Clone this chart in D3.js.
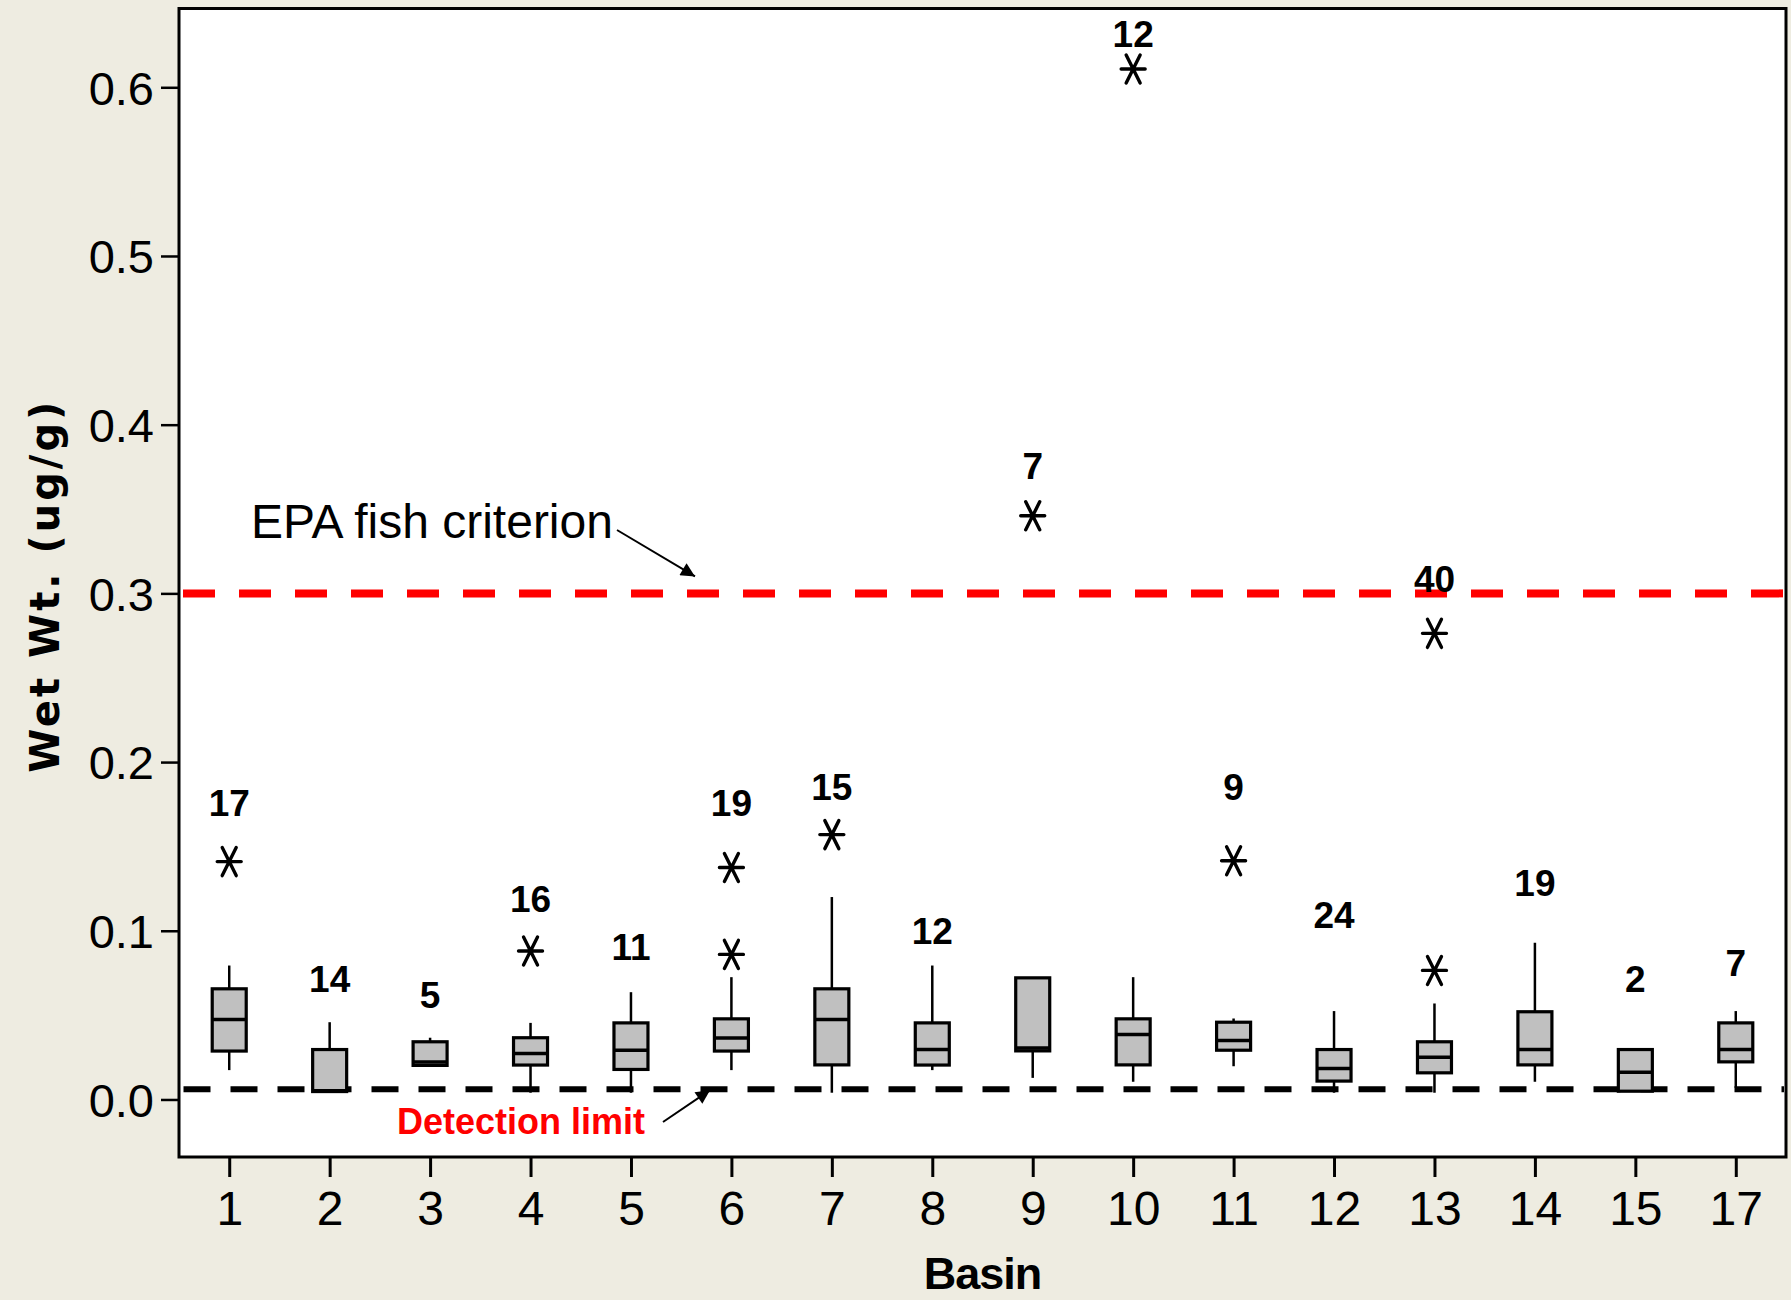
<!DOCTYPE html>
<html><head><meta charset="utf-8">
<script src="https://cdn.jsdelivr.net/npm/d3@7"></script>
<style>html,body{margin:0;padding:0;background:#EEECE1;} svg{display:block}</style>
</head><body><svg id="chart" width="1791" height="1300"></svg>
<script>
// ---------------- data ----------------
const basins      = ["1","2","3","4","5","6","7","8","9","10","11","12","13","14","15","17"];
const whiskerLow  = [0.0174,0.0047,0.0202,0.0040,0.0040,0.0174,0.0040,0.0174,0.0128,0.0105,0.0197,0.0040,0.0040,0.0105,0.0049,0.0069];
const q1          = [0.0287,0.0047,0.0202,0.0204,0.0178,0.0287,0.0205,0.0204,0.0288,0.0205,0.0292,0.0109,0.0158,0.0205,0.0049,0.0223];
const median      = [0.0474,0.0052,0.0222,0.0273,0.0292,0.0364,0.0474,0.0296,0.0305,0.0385,0.0350,0.0184,0.0251,0.0296,0.0162,0.0296];
const q3          = [0.0656,0.0296,0.0342,0.0366,0.0454,0.0478,0.0656,0.0454,0.0721,0.0478,0.0458,0.0296,0.0342,0.0520,0.0296,0.0454];
const whiskerHigh = [0.0794,0.0458,0.0366,0.0454,0.0636,0.0725,0.1200,0.0794,0.0721,0.0725,0.0480,0.0524,0.0569,0.0929,0.0296,0.0524];
const outlierBasin = ["1","4","6","6","7","9","10","11","13","13"];
const outlierValue = [0.141,0.088,0.1375,0.086,0.157,0.346,0.6108,0.1415,0.2763,0.0765];
const sampleCounts = [17,14,5,16,11,19,15,12,7,12,9,24,40,19,2,7];
const countLabelAt = [0.176,0.0718,0.0623,0.1192,0.0907,0.176,0.1855,0.1002,0.3758,0.6318,0.1855,0.1097,0.3088,0.1287,0.0718,0.0813];
const yTicks = [0.0,0.1,0.2,0.3,0.4,0.5,0.6];
const epaCriterion = 0.3;
const detectionLimit = 0.0061;
const yTitle = "Wet Wt. (ug/g)";
const xTitle = "Basin";

// ---------------- layout ----------------
const W = 1791, H = 1300;
const plot = {left:179, top:8.5, right:1786, bottom:1157};
const FONT = "'Liberation Sans', Arial, Helvetica, sans-serif";
const svg = d3.select("#chart");

svg.append("rect").attr("width",W).attr("height",H).attr("fill","#EEECE1");
svg.append("rect").attr("x",plot.left).attr("y",plot.top)
   .attr("width",plot.right-plot.left).attr("height",plot.bottom-plot.top).attr("fill","#ffffff");

const x = d3.scalePoint().domain(basins).range([plot.left,plot.right]).padding(0.5);
const y = d3.scaleLinear().domain([-0.0341,0.6467]).range([plot.bottom,plot.top]);

svg.append("defs").append("clipPath").attr("id","clip")
   .append("rect").attr("x",plot.left+2).attr("y",plot.top+2)
   .attr("width",plot.right-plot.left-4).attr("height",plot.bottom-plot.top-4);

svg.select("defs").append("marker").attr("id","arrow")
   .attr("viewBox","0 0 10 10").attr("refX",10).attr("refY",5)
   .attr("markerWidth",16).attr("markerHeight",14).attr("markerUnits","userSpaceOnUse")
   .attr("orient","auto")
   .append("path").attr("d","M0,0 L10,5 L0,10 Z").attr("fill","#000");

const g = svg.append("g").attr("clip-path","url(#clip)");

// reference lines
g.append("line").attr("x1",plot.left+4).attr("x2",plot.right)
 .attr("y1",y(epaCriterion)).attr("y2",y(epaCriterion))
 .attr("stroke","#FF0000").attr("stroke-width",8).attr("stroke-dasharray","32,24");
g.append("line").attr("x1",plot.left+4.5).attr("x2",plot.right)
 .attr("y1",y(detectionLimit)).attr("y2",y(detectionLimit))
 .attr("stroke","#000").attr("stroke-width",6).attr("stroke-dasharray","27,20");

// boxes
const boxW = 34;
const rows = basins.map((b,i)=>({b,lo:whiskerLow[i],q1:q1[i],med:median[i],q3:q3[i],hi:whiskerHigh[i],n:sampleCounts[i],ly:countLabelAt[i]}));
const bx = g.selectAll("g.box").data(rows).join("g").attr("class","box");
bx.append("line").attr("x1",d=>x(d.b)).attr("x2",d=>x(d.b))
  .attr("y1",d=>y(d.hi)).attr("y2",d=>y(d.q3)).attr("stroke","#000").attr("stroke-width",2.5);
bx.append("line").attr("x1",d=>x(d.b)).attr("x2",d=>x(d.b))
  .attr("y1",d=>y(d.q1)).attr("y2",d=>y(d.lo)).attr("stroke","#000").attr("stroke-width",2.5);
bx.append("rect").attr("x",d=>x(d.b)-boxW/2).attr("width",boxW)
  .attr("y",d=>y(d.q3)).attr("height",d=>Math.max(0,y(d.q1)-y(d.q3)))
  .attr("fill","#C0C0C0").attr("stroke","#000").attr("stroke-width",3.2);
bx.append("line").attr("x1",d=>x(d.b)-boxW/2).attr("x2",d=>x(d.b)+boxW/2)
  .attr("y1",d=>y(d.med)).attr("y2",d=>y(d.med)).attr("stroke","#000").attr("stroke-width",3.5);

// outliers
const star = "M-12,0 L12,0 M-7,-14 L7,14 M7,-14 L-7,14";
g.selectAll("path.out").data(outlierBasin.map((b,i)=>({b,v:outlierValue[i]}))).join("path")
 .attr("class","out").attr("d",star)
 .attr("transform",d=>`translate(${x(d.b)},${y(d.v)})`)
 .attr("fill","none").attr("stroke","#000").attr("stroke-width",3.4).attr("stroke-linecap","round");

// counts
g.selectAll("text.n").data(rows).join("text").attr("class","n")
 .attr("x",d=>x(d.b)).attr("y",d=>y(d.ly)).attr("dy","0.36em")
 .attr("text-anchor","middle").attr("font-family",FONT).attr("font-weight","bold")
 .attr("font-size",37).attr("fill","#000").text(d=>d.n);

// annotations
svg.append("text").attr("x",plot.left+72).attr("y",538)
   .attr("font-family",FONT).attr("font-size",48).attr("fill","#000").text("EPA fish criterion");
svg.append("line").attr("x1",617).attr("y1",530).attr("x2",695).attr("y2",y(epaCriterion)-17)
   .attr("stroke","#000").attr("stroke-width",2).attr("marker-end","url(#arrow)");
svg.append("text").attr("x",397).attr("y",1134)
   .attr("font-family",FONT).attr("font-size",36).attr("font-weight","bold").attr("fill","#FF0000").text("Detection limit");
svg.append("line").attr("x1",663).attr("y1",1122).attr("x2",710).attr("y2",y(detectionLimit)+1)
   .attr("stroke","#000").attr("stroke-width",2).attr("marker-end","url(#arrow)");

// axes
const yAxis = svg.append("g").attr("transform",`translate(${plot.left},0)`)
  .call(d3.axisLeft(y).tickValues(yTicks).tickFormat(d3.format(".1f")).tickSize(18).tickPadding(7));
yAxis.select(".domain").remove();
yAxis.selectAll(".tick line").attr("stroke","#000").attr("stroke-width",2.5);
yAxis.selectAll(".tick text").attr("font-family",FONT).attr("font-size",47).attr("fill","#000").attr("dy","0.36em");

const xAxis = svg.append("g").attr("transform",`translate(0,${plot.bottom})`)
  .call(d3.axisBottom(x).tickSize(20).tickPadding(14));
xAxis.select(".domain").remove();
xAxis.selectAll(".tick line").attr("stroke","#000").attr("stroke-width",3);
xAxis.selectAll(".tick text").attr("font-family",FONT).attr("font-size",48).attr("fill","#000");

// frame
svg.append("rect").attr("x",plot.left).attr("y",plot.top)
   .attr("width",plot.right-plot.left).attr("height",plot.bottom-plot.top)
   .attr("fill","none").attr("stroke","#000").attr("stroke-width",3);

// titles
svg.append("text").attr("x",(plot.left+plot.right)/2).attr("y",1289)
   .attr("text-anchor","middle").attr("font-family",FONT).attr("font-weight","bold")
   .attr("font-size",45).attr("letter-spacing","-1").attr("fill","#000").text(xTitle);
svg.append("text").attr("transform",`translate(59,${(plot.top+plot.bottom)/2 + 3}) rotate(-90)`)
   .attr("text-anchor","middle").attr("font-family","'DejaVu Sans', Verdana, sans-serif").attr("font-weight","bold")
   .attr("font-size",40).attr("letter-spacing","3").attr("fill","#000").text(yTitle);
</script></body></html>
